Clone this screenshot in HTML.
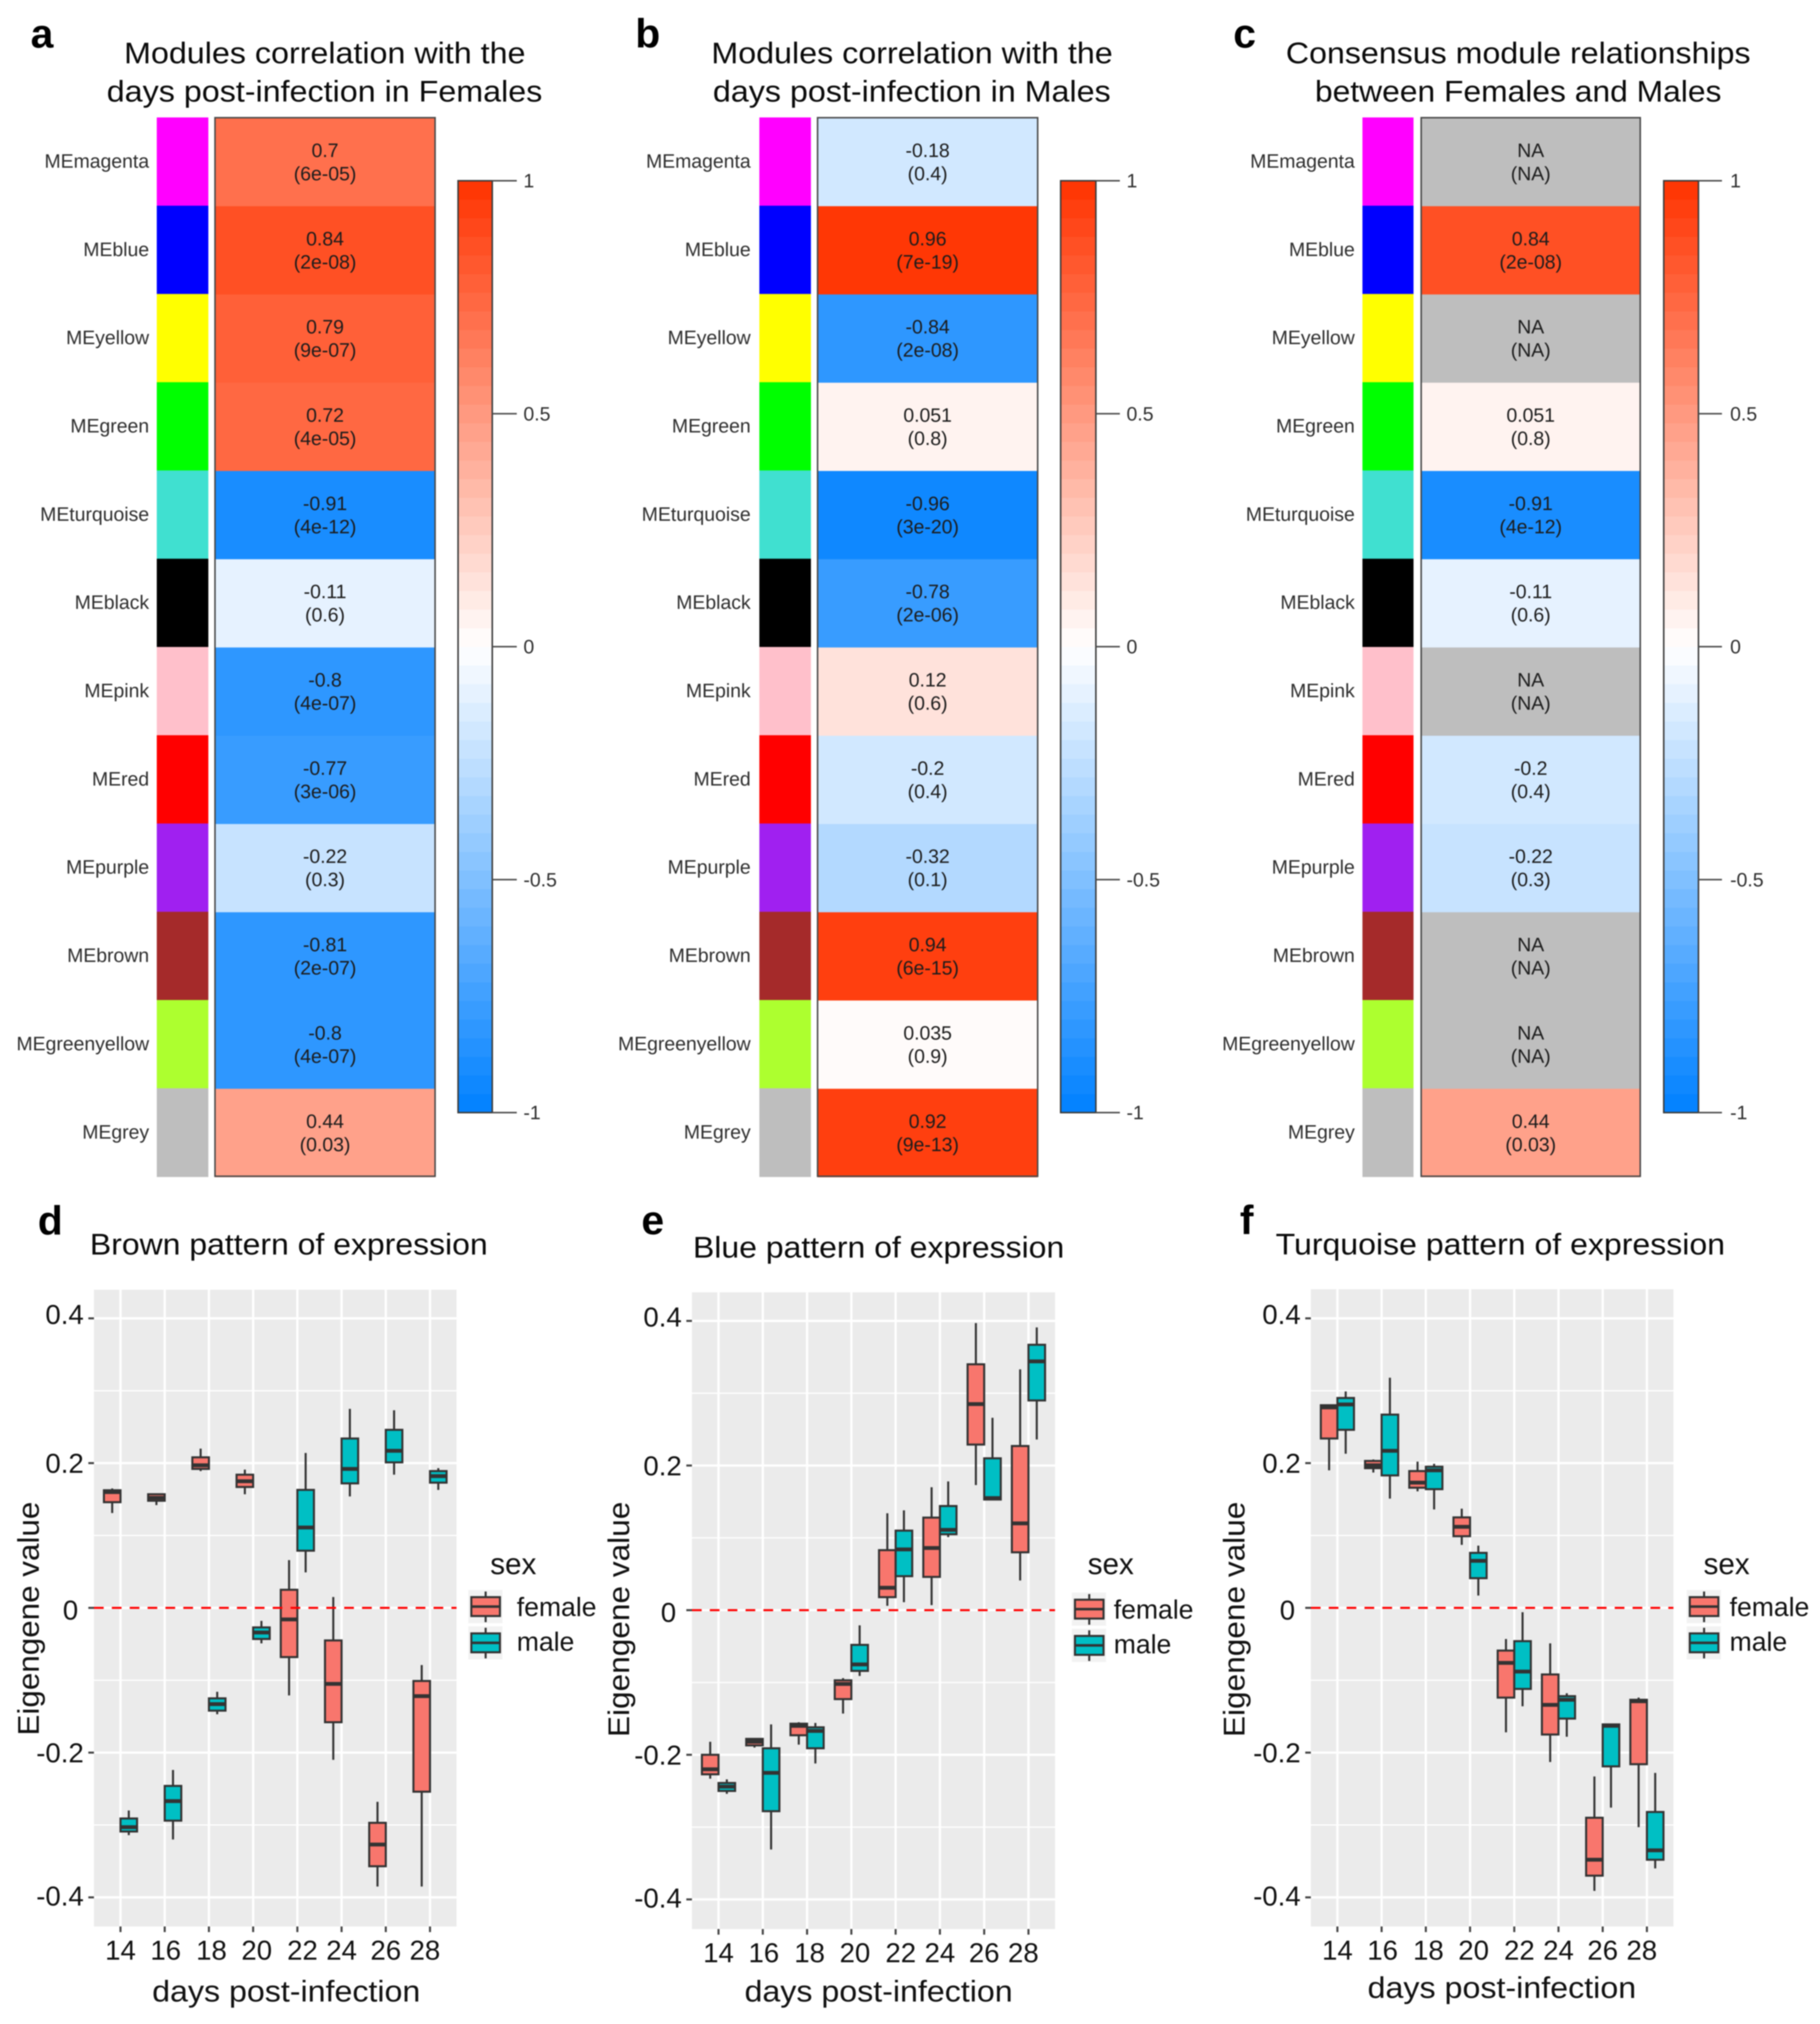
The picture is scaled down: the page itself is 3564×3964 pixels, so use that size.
<!DOCTYPE html>
<html lang="en">
<head>
<meta charset="utf-8">
<title>Module correlations and eigengene patterns</title>
<style>
html,body{margin:0;padding:0;background:#fff;}
svg{display:block;filter:blur(1.1px);}
text{font-family:"Liberation Sans",sans-serif;}
.title{font-size:58px;fill:#0a0a0a;}
.letter{font-size:80px;font-weight:bold;fill:#000;}
.axis-title{font-size:58px;fill:#111;}
.legend-title{font-size:58px;fill:#111;}
.legend-label{font-size:52px;fill:#111;}
</style>
</head>
<body>
<svg id="figure" xmlns="http://www.w3.org/2000/svg" width="3564" height="3964" viewBox="0 0 3564 3964">
  <rect x="0" y="0" width="3564" height="3964" fill="#ffffff"/>

  <text class="letter" x="60" y="93">a</text>
  <text class="letter" x="1244" y="93">b</text>
  <text class="letter" x="2415" y="93">c</text>
  <text class="letter" x="74" y="2418">d</text>
  <text class="letter" x="1256" y="2417">e</text>
  <text class="letter" x="2428" y="2417">f</text>

  <text class="title" x="243" y="124" textLength="786" lengthAdjust="spacingAndGlyphs">Modules correlation with the</text>
  <text class="title" x="209" y="199" textLength="853" lengthAdjust="spacingAndGlyphs">days post-infection in Females</text>
  <text class="title" x="1393" y="124" textLength="786" lengthAdjust="spacingAndGlyphs">Modules correlation with the</text>
  <text class="title" x="1396" y="199" textLength="779" lengthAdjust="spacingAndGlyphs">days post-infection in Males</text>
  <text class="title" x="2518" y="124" textLength="910" lengthAdjust="spacingAndGlyphs">Consensus module relationships</text>
  <text class="title" x="2575" y="199" textLength="796" lengthAdjust="spacingAndGlyphs">between Females and Males</text>

  <text class="title" x="176" y="2457" textLength="779" lengthAdjust="spacingAndGlyphs">Brown pattern of expression</text>
  <text class="title" x="1357" y="2463" textLength="727" lengthAdjust="spacingAndGlyphs">Blue pattern of expression</text>
  <text class="title" x="2498" y="2457" textLength="880" lengthAdjust="spacingAndGlyphs">Turquoise pattern of expression</text>

  <text class="axis-title" x="298" y="3920" textLength="525" lengthAdjust="spacingAndGlyphs">days post-infection</text>
  <text class="axis-title" x="1458" y="3920" textLength="525" lengthAdjust="spacingAndGlyphs">days post-infection</text>
  <text class="axis-title" x="2678" y="3913" textLength="526" lengthAdjust="spacingAndGlyphs">days post-infection</text>

  <text class="axis-title" transform="translate(76 3399) rotate(-90)" x="0" y="0" textLength="458" lengthAdjust="spacingAndGlyphs">Eigengene value</text>
  <text class="axis-title" transform="translate(1232 3402) rotate(-90)" x="0" y="0" textLength="461" lengthAdjust="spacingAndGlyphs">Eigengene value</text>
  <text class="axis-title" transform="translate(2437 3402) rotate(-90)" x="0" y="0" textLength="461" lengthAdjust="spacingAndGlyphs">Eigengene value</text>

  <g id="heatmaps"></g>
  <g id="boxplots"></g>
</svg>

<script>
// ---------- heatmap data ----------
const moduleNames = ['MEmagenta','MEblue','MEyellow','MEgreen','MEturquoise','MEblack','MEpink','MEred','MEpurple','MEbrown','MEgreenyellow','MEgrey'];
const moduleColors = ['#ff00ff','#0000ff','#ffff00','#00ff00','#40e0d0','#000000','#ffc0cb','#ff0000','#a020f0','#a52a2a','#adff2f','#bebebe'];
const femaleCorr = [0.7,0.84,0.79,0.72,-0.91,-0.11,-0.8,-0.77,-0.22,-0.81,-0.8,0.44];
const femaleP = ['6e-05','2e-08','9e-07','4e-05','4e-12','0.6','4e-07','3e-06','0.3','2e-07','4e-07','0.03'];
const maleCorr = [-0.18,0.96,-0.84,0.051,-0.96,-0.78,0.12,-0.2,-0.32,0.94,0.035,0.92];
const maleP = ['0.4','7e-19','2e-08','0.8','3e-20','2e-06','0.6','0.4','0.1','6e-15','0.9','9e-13'];
const consensusCorr = [null,0.84,null,0.051,-0.91,-0.11,null,-0.2,-0.22,null,null,0.44];
const consensusP = ['NA','2e-08','NA','0.8','4e-12','0.6','NA','0.4','0.3','NA','NA','0.03'];
const colorbarTicks = [1,0.5,0,-0.5,-1];

// ---------- boxplot data: [lower whisker, q1, median, q3, upper whisker] ----------
const dayLabels = ['14','16','18','20','22','24','26','28'];
const yTickValues = [0.4,0.2,0,-0.2,-0.4];
const yTickLabels = ['0.4','0.2','0','-0.2','-0.4'];
const yMinorValues = [0.3,0.1,-0.1,-0.3];

const brownFemale = [
  [0.131,0.146,0.160,0.1625,0.165],
  [0.142,0.148,0.152,0.157,0.158],
  [0.189,0.192,0.197,0.208,0.220],
  [0.157,0.167,0.175,0.184,0.191],
  [-0.121,-0.068,-0.016,0.025,0.066],
  [-0.210,-0.158,-0.105,-0.045,0.015],
  [-0.385,-0.357,-0.327,-0.297,-0.268],
  [-0.385,-0.254,-0.122,-0.101,-0.079]
];
const brownMale = [
  [-0.314,-0.309,-0.303,-0.291,-0.280],
  [-0.320,-0.294,-0.267,-0.246,-0.224],
  [-0.147,-0.142,-0.133,-0.125,-0.116],
  [-0.049,-0.043,-0.034,-0.027,-0.018],
  [0.049,0.079,0.111,0.163,0.214],
  [0.154,0.172,0.192,0.234,0.275],
  [0.184,0.201,0.217,0.246,0.273],
  [0.163,0.173,0.182,0.189,0.193]
];
const blueFemale = [
  [-0.233,-0.227,-0.220,-0.200,-0.182],
  [-0.190,-0.187,-0.182,-0.178,-0.177],
  [-0.186,-0.173,-0.160,-0.157,-0.155],
  [-0.143,-0.123,-0.102,-0.097,-0.094],
  [0.006,0.018,0.031,0.083,0.134],
  [0.007,0.046,0.086,0.128,0.170],
  [0.173,0.229,0.285,0.340,0.397],
  [0.041,0.080,0.120,0.227,0.333]
];
const blueMale = [
  [-0.254,-0.250,-0.244,-0.239,-0.234],
  [-0.331,-0.278,-0.225,-0.191,-0.158],
  [-0.212,-0.191,-0.167,-0.162,-0.156],
  [-0.091,-0.084,-0.075,-0.048,-0.021],
  [0.011,0.047,0.084,0.110,0.138],
  [0.101,0.105,0.111,0.144,0.178],
  [0.153,0.153,0.155,0.210,0.266],
  [0.236,0.290,0.344,0.367,0.391]
];
const turquoiseFemale = [
  [0.190,0.234,0.277,0.280,0.281],
  [0.187,0.193,0.197,0.203,0.205],
  [0.161,0.166,0.173,0.189,0.202],
  [0.087,0.099,0.112,0.125,0.137],
  [-0.172,-0.124,-0.076,-0.059,-0.043],
  [-0.213,-0.175,-0.134,-0.092,-0.049],
  [-0.391,-0.370,-0.348,-0.290,-0.233],
  [-0.303,-0.216,-0.129,-0.127,-0.124]
];
const turquoiseMale = [
  [0.213,0.246,0.281,0.290,0.299],
  [0.151,0.183,0.217,0.267,0.318],
  [0.136,0.164,0.190,0.195,0.199],
  [0.017,0.041,0.065,0.076,0.086],
  [-0.136,-0.112,-0.088,-0.046,-0.006],
  [-0.178,-0.153,-0.127,-0.122,-0.118],
  [-0.276,-0.219,-0.163,-0.161,-0.160],
  [-0.360,-0.348,-0.335,-0.282,-0.228]
];
const sexLevels = ['female','male'];
const sexColors = ['#f8766d','#00bfc4'];

// ---------- drawing helpers ----------
const SVGNS = 'http://www.w3.org/2000/svg';
function mk(tag, parent, attrs, txt) {
  const node = document.createElementNS(SVGNS, tag);
  for (const k in attrs) node.setAttribute(k, attrs[k]);
  if (txt !== undefined) node.textContent = txt;
  parent.appendChild(node);
  return node;
}

// colour ramp quantised to 50 steps
function rampColor(v) {
  let idx = Math.floor((v + 1) / 2 * 50);
  if (idx > 49) idx = 49;
  if (idx < 0) idx = 0;
  const t = (idx + 0.5) / 25 - 1;
  let r, g, b;
  if (t < 0) {
    const a = -t;
    r = 255 * (1 - a);
    g = 255 - 127 * a;
    b = 255;
  } else {
    r = 255;
    g = 255 - 204 * t;
    b = 255 * (1 - t);
  }
  return 'rgb(' + Math.round(r) + ',' + Math.round(g) + ',' + Math.round(b) + ')';
}

// ---------- heatmaps ----------
const heatTop = 231, rowH = 172.85, barTop = 354, barBottom = 2179;
function rowY(i) { return heatTop + i * rowH; }
function barY(v) { return barBottom - (v + 1) / 2 * (barBottom - barTop); }

function drawHeatmap(host, corr, pvals, g) {
  const group = mk('g', host, {});
  
  

  moduleNames.forEach(function (name, i) {
    const y = rowY(i), cy = y + rowH / 2;
    const label = mk('text', group, {x: g.labelRight, y: cy + 11, 'text-anchor': 'end', 'font-size': g.fs, fill: '#2e2e2e'}, name);
    
    

    const swatch = mk('rect', group, {x: g.stripL, y: y - 1, width: g.stripR - g.stripL, height: rowH + 1, fill: moduleColors[i]});
    
    

    const val = corr[i];
    const cell = mk('rect', group, {x: g.heatL, y: y, width: g.heatR - g.heatL, height: rowH + 0.5, fill: val === null ? '#bebebe' : rampColor(val)});
    
    

    const cx = (g.heatL + g.heatR) / 2;
    const t1 = mk('text', group, {x: cx, y: cy - 10, 'text-anchor': 'middle', 'font-size': g.fs, fill: '#1c1c1c'}, val === null ? 'NA' : String(val));
    
    

    const t2 = mk('text', group, {x: cx, y: cy + 35.5, 'text-anchor': 'middle', 'font-size': g.fs, fill: '#1c1c1c'}, '(' + pvals[i] + ')');
    
    
  });

  const frame = mk('rect', group, {x: g.heatL, y: heatTop - 0.5, width: g.heatR - g.heatL, height: rowH * 12 - 1, fill: 'none', stroke: '#4a4a4a', 'stroke-width': 3});
  
  

  const bandH = (barBottom - barTop) / 50;
  for (let b = 0; b < 50; b++) {
    const lo = -1 + b * 0.04;
    const band = mk('rect', group, {x: g.barL, y: barY(lo + 0.04), width: g.barR - g.barL, height: bandH + 0.5, fill: rampColor(lo + 0.02)});
    
    
  }
  const barFrame = mk('rect', group, {x: g.barL, y: barTop, width: g.barR - g.barL, height: barBottom - barTop, fill: 'none', stroke: '#3c3c3c', 'stroke-width': 3});
  
  

  colorbarTicks.forEach(function (t) {
    const line = mk('line', group, {x1: g.barR, x2: g.tickEnd, y1: barY(t), y2: barY(t), stroke: '#4a4a4a', 'stroke-width': 3});
    
    

    const lab = mk('text', group, {x: g.labelX, y: barY(t) + 13, 'font-size': g.fs, fill: '#2e2e2e'}, String(t));
    
    
  });
}

const heatHost = document.getElementById('heatmaps');
drawHeatmap(heatHost, femaleCorr, femaleP, {labelRight:292, stripL:307, stripR:408, heatL:421, heatR:852, barL:897, barR:964, tickEnd:1012, labelX:1025, fs:38});
drawHeatmap(heatHost, maleCorr, maleP, {labelRight:1470, stripL:1487, stripR:1588, heatL:1601, heatR:2032, barL:2077, barR:2146, tickEnd:2193, labelX:2206, fs:38});
drawHeatmap(heatHost, consensusCorr, consensusP, {labelRight:2653, stripL:2668, stripR:2768, heatL:2783, heatR:3212, barL:3258, barR:3326, tickEnd:3372, labelX:3388, fs:38});

// ---------- boxplots ----------
// small nudges the original figure has on its hand-placed tick labels (layout only)
const xLabelNudge = [0,2,5,7,10,0,0,-10];
const yLabelNudge = [11,19,23,19,16];
const yLabelRightNudge = [0,0,-11,0,0];

function drawBoxplot(host, femaleBoxes, maleBoxes, p) {
  const group = mk('g', host, {});
  
  

  const step = (p.right - p.left) / (dayLabels.length + 0.2);
  const xAt = function (i) { return p.left + (i + 0.6) * step; };
  const yAt = function (v) { return p.y04 + (0.4 - v) * (p.ym04 - p.y04) / 0.8; };
  const halfDodge = 0.1875 * step;

  const bg = mk('rect', group, {x: p.left, y: p.top, width: p.right - p.left, height: p.bottom - p.top, fill: '#ebebeb'});
  
  

  yMinorValues.forEach(function (v) {
    const l = mk('line', group, {x1: p.left, x2: p.right, y1: yAt(v), y2: yAt(v), stroke: '#fff', 'stroke-width': 2.4});
    
    
  });
  yTickValues.forEach(function (v, i) {
    const l = mk('line', group, {x1: p.left, x2: p.right, y1: yAt(v), y2: yAt(v), stroke: '#fff', 'stroke-width': 4.5});
    
    

    const tick = mk('line', group, {x1: p.left - 11, x2: p.left, y1: yAt(v), y2: yAt(v), stroke: '#444', 'stroke-width': 4});
    
    

    const lab = mk('text', group, {x: p.left - 20 + yLabelRightNudge[i], y: yAt(v) + yLabelNudge[i], 'text-anchor': 'end', 'font-size': 54, fill: '#111'}, yTickLabels[i]);
    
    
  });
  dayLabels.forEach(function (d, i) {
    const l = mk('line', group, {x1: xAt(i), x2: xAt(i), y1: p.top, y2: p.bottom, stroke: '#fff', 'stroke-width': 4.5});
    
    

    const tick = mk('line', group, {x1: xAt(i), x2: xAt(i), y1: p.bottom, y2: p.bottom + 11, stroke: '#444', 'stroke-width': 4});
    
    

    const lab = mk('text', group, {x: xAt(i) + xLabelNudge[i], y: p.bottom + 65, 'text-anchor': 'middle', 'font-size': 54, fill: '#111'}, d);
    
    
  });

  [femaleBoxes, maleBoxes].forEach(function (boxes, s) {
    boxes.forEach(function (b, i) {
      const cx = xAt(i) + (s === 0 ? -halfDodge : halfDodge);
      const whisker = mk('line', group, {x1: cx, x2: cx, y1: yAt(b[0]), y2: yAt(b[4]), stroke: '#333', 'stroke-width': 4});
      
      

      const box = mk('rect', group, {x: cx - halfDodge, y: yAt(b[3]), width: 2 * halfDodge, height: yAt(b[1]) - yAt(b[3]), fill: sexColors[s], stroke: '#333', 'stroke-width': 4});
      
      

      const med = mk('line', group, {x1: cx - halfDodge, x2: cx + halfDodge, y1: yAt(b[2]), y2: yAt(b[2]), stroke: '#333', 'stroke-width': 7.5});
      
      
    });
  });

  const zero = mk('line', group, {x1: p.left, x2: p.right, y1: yAt(0), y2: yAt(0), stroke: '#ff0000', 'stroke-width': 4, 'stroke-dasharray': '19 16'});
  
  

  // legend
  const legTitle = mk('text', group, {class: 'legend-title', x: p.legSexX, y: 3083}, 'sex');
  
  

  sexLevels.forEach(function (name, s) {
    const top = 3114 + p.legDy + s * 71;
    const bx = p.legBoxX, cx = bx + 28;
    const keyBg = mk('rect', group, {x: bx - 6, y: top, width: 67, height: 65, fill: '#f2f2f2'});
    
    

    const wh = mk('line', group, {x1: cx, x2: cx, y1: top + 3, y2: top + 63, stroke: '#333', 'stroke-width': 4});
    
    

    const bk = mk('rect', group, {x: bx, y: top + 14, width: 56, height: 37, fill: sexColors[s], stroke: '#333', 'stroke-width': 4});
    
    

    const md = mk('line', group, {x1: bx, x2: bx + 56, y1: top + 32.5, y2: top + 32.5, stroke: '#333', 'stroke-width': 5});
    
    

    const tx = mk('text', group, {class: 'legend-label', x: p.legTextX, y: top + 51 - s * 3}, name);
    
    
  });
}

const boxHost = document.getElementById('boxplots');
drawBoxplot(boxHost, brownFemale, brownMale, {left:184, right:894, top:2526, bottom:3773, y04:2582, ym04:3716, legSexX:960, legBoxX:923, legTextX:1012, legDy:0});
drawBoxplot(boxHost, blueFemale, blueMale, {left:1355, right:2066, top:2531, bottom:3778, y04:2587, ym04:3720, legSexX:2130, legBoxX:2105, legTextX:2181, legDy:5});
drawBoxplot(boxHost, turquoiseFemale, turquoiseMale, {left:2567, right:3277, top:2525, bottom:3773, y04:2582, ym04:3716, legSexX:3336, legBoxX:3309, legTextX:3387, legDy:0});
</script>
</body>
</html>
